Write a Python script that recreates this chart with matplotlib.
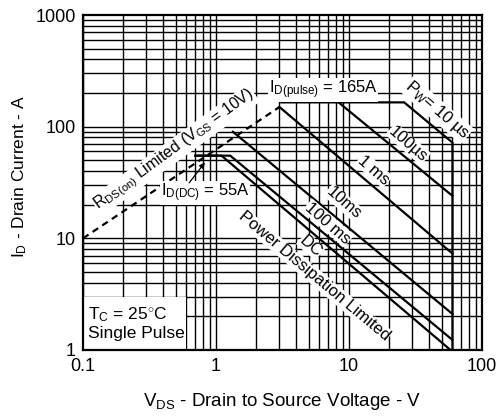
import numpy as np
import matplotlib
matplotlib.use("Agg")
import matplotlib.pyplot as plt
from matplotlib.patches import Rectangle

plt.rcParams['font.family'] = ['Liberation Sans', 'DejaVu Sans']
plt.rcParams['mathtext.fontset'] = 'custom'
plt.rcParams['mathtext.rm'] = 'Liberation Sans'
plt.rcParams['mathtext.it'] = 'Liberation Sans:italic'

# ---- data ----
rds_v = [0.1, 3.0]
rds_i = [10, 150]

pw10us_v = [3.1, 26, 60, 60]
pw10us_i = [165, 165, 72, 1.0]

pw100us_v = [8.35, 60]
pw100us_i = [165, 24]

pw1ms_v = [3.0, 60]
pw1ms_i = [150, 7.3]

pw10ms_v = [1.34, 60]
pw10ms_i = [90, 2.1]

pw100ms_v = [0.7, 1.28, 60]
pw100ms_i = [55, 55, 1.23]

dc_v = [0.7, 1.1, 58]
dc_i = [55, 55, 1.0]

xticks = [0.1, 1, 10, 100]
xticklabels = ['0.1', '1', '10', '100']
yticks = [1, 10, 100, 1000]
yticklabels = ['1', '10', '100', '1000']

fig = plt.figure(figsize=(4.97, 4.16), dpi=100)
ax = fig.add_axes([83/497, (416-350)/416, 399/497, 335/416])
ax.set_xscale('log')
ax.set_yscale('log')
ax.set_xlim(0.1, 100)
ax.set_ylim(1, 1000)

# grid
for dec in [0.1, 1, 10]:
    for m in range(1, 10):
        ax.axvline(dec*m, color='black', lw=1.0, zorder=1)
for dec in [1, 10, 100]:
    for m in range(1, 10):
        ax.axhline(dec*m, color='black', lw=1.0, zorder=1)

# white box for Tc note
ax.add_patch(Rectangle((0.1, 1), 0.5, 2, facecolor='white', edgecolor='none', zorder=2))

lw = 1.6
ax.plot(rds_v, rds_i, color='black', lw=1.6, ls=(0, (3, 2.2)), zorder=3)
for v, i in [(pw10us_v, pw10us_i), (pw100us_v, pw100us_i), (pw1ms_v, pw1ms_i),
             (pw10ms_v, pw10ms_i), (pw100ms_v, pw100ms_i), (dc_v, dc_i)]:
    ax.plot(v, i, color='black', lw=lw, zorder=3, solid_joinstyle='miter')

ax.set_xticks(xticks)
ax.set_xticklabels(xticklabels)
ax.set_yticks(yticks)
ax.set_yticklabels(yticklabels)
ax.minorticks_off()
ax.tick_params(length=0, labelsize=13)
ax.tick_params(axis='x', pad=6)
ax.tick_params(axis='y', pad=5)
for s in ax.spines.values():
    s.set_linewidth(1.6)
    s.set_zorder(5)

fig.text(0.567, 0.035, r'V$_{\mathrm{DS}}$ - Drain to Source Voltage - V', ha='center', va='center', fontsize=13.5)
fig.text(0.04, 0.575, r'I$_{\mathrm{D}}$ - Drain Current - A', ha='center', va='center', rotation=90, fontsize=12.5)

wb = dict(facecolor='white', edgecolor='none', pad=0.5)
fs = 12
def lab(fx, fy, s, rot=0, **kw):
    ax.text(fx, fy, s, transform=ax.transAxes, ha='center', va='center', rotation=rot,
            rotation_mode='anchor', fontsize=kw.pop('fontsize', fs), bbox=wb, zorder=4, **kw)

lab(0.23, 0.597, r'R$_{\mathrm{DS(on)}}$ Limited (V$_{\mathrm{GS}}$ = 10V)', 36, fontsize=11.5)
lab(0.602, 0.776, r'I$_{\mathrm{D(pulse)}}$ = 165A')
lab(0.887, 0.716, r'P$_{\mathrm{W}}$= 10 µs', -41)
lab(0.815, 0.615, '100µs', -41)
lab(0.729, 0.537, '1 ms', -41)
lab(0.654, 0.439, '10ms', -41)
lab(0.614, 0.379, '100 ms', -41)
lab(0.571, 0.310, 'DC', -41)
lab(0.579, 0.221, 'Power Dissipation Limited', -40)
lab(0.306, 0.469, r'I$_{\mathrm{D(DC)}}$ = 55A')
ax.annotate('', xy=(0.85, 50), xytext=(0.61, 30),
            arrowprops=dict(arrowstyle='-|>', color='black', lw=0.9, mutation_scale=8), zorder=4)

ax.text(0.0125, 0.107, r'T$_{\mathrm{C}}$ = 25$^{\circ}$C', transform=ax.transAxes, ha='left', va='center', fontsize=12.5, zorder=4)
ax.text(0.0125, 0.048, 'Single Pulse', transform=ax.transAxes, ha='left', va='center', fontsize=12.5, zorder=4)

fig.savefig('out.png', dpi=100)
